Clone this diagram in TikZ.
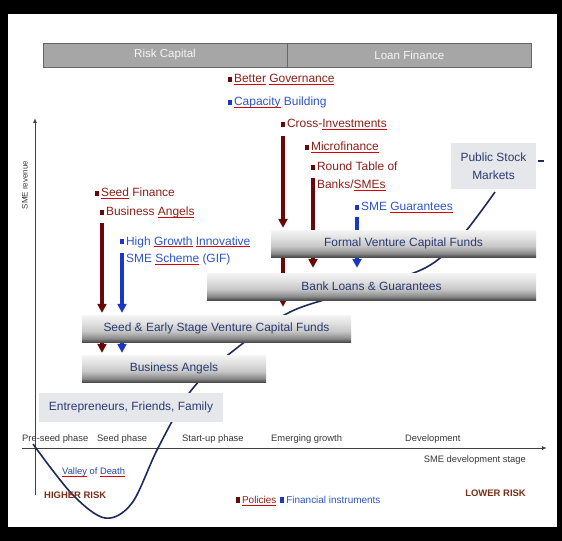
\documentclass[tikz,border=0pt]{standalone}
\usepackage{fontspec}
\setmainfont{Liberation Sans}
\usepackage{tikz}
\usetikzlibrary{arrows.meta,backgrounds}

\definecolor{polred}{RGB}{140,32,24}
\definecolor{polbar}{RGB}{105,8,8}
\definecolor{finblue}{RGB}{45,85,205}
\definecolor{finbar}{RGB}{25,55,195}
\definecolor{boxtext}{RGB}{42,58,115}
\definecolor{curveblue}{RGB}{28,42,92}
\definecolor{hdrfill}{RGB}{166,166,166}
\definecolor{palefill}{RGB}{229,231,234}
\definecolor{riskbrown}{RGB}{122,48,24}

\pgfdeclareverticalshading{fundshade}{100bp}{color(0bp)=(black!70); color(25bp)=(black!70);
  color(32bp)=(black!45); color(45bp)=(black!22); color(60bp)=(black!12); color(75bp)=(black!4); color(100bp)=(black!4)}

\newsavebox\splbox
\newcommand\spl[1]{\sbox\splbox{#1}\rlap{\color{red!85!black}\rule[-2bp]{\wd\splbox}{0.6bp}}\usebox\splbox}
\newcommand\pb{\textcolor{polbar}{\rule[0.6bp]{3.4bp}{5.6bp}}\hspace{2.5bp}}
\newcommand\fb{\textcolor{finbar}{\rule[0.6bp]{3.4bp}{5.6bp}}\hspace{2.5bp}}

\begin{document}
\begin{tikzpicture}[x=1bp, y=-1bp,
  hdr/.style={draw=gray!80!black, fill=hdrfill, text=gray!8, font=\fontsize{11.6}{14}\selectfont, minimum height=24bp, inner sep=0},
  fundbox/.style={shading=fundshade, text=boxtext, font=\fontsize{12}{14}\selectfont, minimum height=27bp, inner sep=0},
  paleblock/.style={fill=palefill, text=boxtext, font=\fontsize{12}{18}\selectfont, inner sep=0},
  pol/.style={anchor=base west, inner sep=0, text=polred, font=\fontsize{12}{18}\selectfont},
  fin/.style={pol, text=finblue},
  small/.style={inner sep=0, text=black!78, font=\fontsize{9.4}{11}\selectfont},
  risk/.style={inner sep=0, text=riskbrown, font=\fontsize{9.5}{11}\selectfont\bfseries},
  axis/.style={draw=black!75, line width=1bp, -{Latex[length=5bp,width=4bp]}},
  polarrow/.style={polbar, line width=4.5bp, -{Triangle[width=9bp,length=9bp]}, shorten >=2bp},
  finarrow/.style={finbar, line width=4.5bp, -{Triangle[width=9bp,length=9bp]}, shorten >=2bp},
  polstem/.style={polbar, line width=4.5bp},
  finstem/.style={finbar, line width=4.5bp},
  valley/.style={draw=curveblue, line width=1.6bp}
]

% header bar
\node[hdr, minimum width=244bp] (riskcap) at (165,55) {Risk Capital};
\node[hdr, minimum width=244bp, anchor=west] (loanfin) at (riskcap.east) {Loan Finance};

% funding stages
\node[fundbox, minimum width=265bp] (formal) at (403.5,243.5) {Formal Venture Capital Funds};
\node[fundbox, minimum width=329bp] (bank) at (371.5,286.5) {Bank Loans \& Guarantees};
\node[fundbox, minimum width=269bp] (seedvc) at (216.5,328.5) {Seed \& Early Stage Venture Capital Funds};
\node[fundbox, minimum width=184bp] (angels) at (174,368.5) {Business Angels};
\node[paleblock, minimum width=184bp, minimum height=29bp] (entre) at (131,407.5) {Entrepreneurs, Friends, Family};
\node[paleblock, minimum width=85bp, minimum height=46bp, align=center] (stock) at (493.5,166) {Public Stock\\Markets};

% policies and instruments
\node[pol] (gov) at (228,83) {\pb\spl{Better} \spl{Governance}};
\node[fin] (capac) at (228,106) {\fb\spl{Capacity} Building};
\node[pol] (cross) at (281,128) {\pb Cross-\spl{Investments}};
\node[pol] (micro) at (305,151) {\pb\spl{Microfinance}};
\node[pol] (round) at (311,171) {\pb\begin{tabular}[t]{@{}l@{}}Round Table of\\Banks/\spl{SMEs}\end{tabular}};
\node[fin] (smeg) at (355,211) {\fb SME \spl{Guarantees}};
\node[pol] (seedf) at (95,197) {\pb\spl{Seed} Finance};
\node[pol] (bizang) at (100,216) {\pb Business \spl{Angels}};
\node[fin] (gif) at (120,245) {\fb\begin{tabular}[t]{@{}l@{}}High \spl{Growth} \spl{Innovative}\\SME \spl{Scheme} (GIF)\end{tabular}};

\coordinate (sa) at ([shift={(2,7)}]bizang.base west);
\coordinate (ga) at ([shift={(2,8)}]gif.base west);
\coordinate (ca) at ([shift={(2,8)}]cross.base west);
\coordinate (ra) at ([shift={(2,7)}]round.base west);
\coordinate (ma) at ([shift={(2,6)}]smeg.base west);

% axes and labels
\node[small, rotate=90, font=\fontsize{8}{10}\selectfont] (revenue) at (25,185) {SME revenue};
\node[small, anchor=west] (preseed) at (22,439) {Pre-seed phase};
\node[small, anchor=west] (seedph) at (97,439) {Seed phase};
\node[small, anchor=west] (startph) at (182,439) {Start-up phase};
\node[small, anchor=west] (emerg) at (271,439) {Emerging growth};
\node[small, anchor=west] (devel) at (405,439) {Development};
\node[small, anchor=east] (stage) at (526,460) {SME development stage};
\node[small, anchor=west, text=finblue!80!black] (valleylbl) at (62,472) {\spl{Valley} of \spl{Death}};
\node[risk, anchor=west] (higher) at (44,495) {HIGHER RISK};
\node[risk, anchor=east] (lower) at (526,493) {LOWER RISK};
\node[small, anchor=west, font=\fontsize{10}{12}\selectfont] (legend) at (236,501)
  {\pb\textcolor{polred}{\spl{Policies}}\hspace{4bp}\fb\textcolor{finblue}{Financial instruments}};

\begin{scope}[on background layer]
\fill[black] (0,0) rectangle (562,541);
\fill[white] (8,14) rectangle (557,527);

\draw[axis] (35,495) -- (35,118);
\draw[axis] (22,448) -- (547,448);

% valley of death and growth path
\draw[valley] plot[smooth, tension=0.55] coordinates {(33,444) (72,494) (105,518) (132,503) (158,448)
  (190,392) (228,355) (290,312) (360,290) (425,268) (460,238) (495,192)};
\draw[valley] ([shift={(2,-5)}]stock.east) -- ([shift={(8,-5)}]stock.east);

% arrows
\draw[polarrow] (sa) -- (sa |- seedvc.north);
\draw[polarrow] (sa |- seedvc.center) -- (sa |- angels.north);
\draw[finarrow] (ga) -- (ga |- seedvc.north);
\draw[finarrow] (ga |- seedvc.center) -- (ga |- angels.north);
\draw[polarrow] (ca) -- (ca |- formal.north);
\draw[polarrow, shorten >=8bp] (ca |- formal.center) -- (ca |- seedvc.north);
\draw[polstem] (ra) -- (ra |- formal.north);
\draw[polarrow, shorten >=5bp] (ra |- formal.center) -- (ra |- bank.north);
\draw[finstem] (ma) -- (ma |- formal.north);
\draw[finarrow, shorten >=5bp] (ma |- formal.center) -- (ma |- bank.north);
\end{scope}
\end{tikzpicture}
\end{document}
